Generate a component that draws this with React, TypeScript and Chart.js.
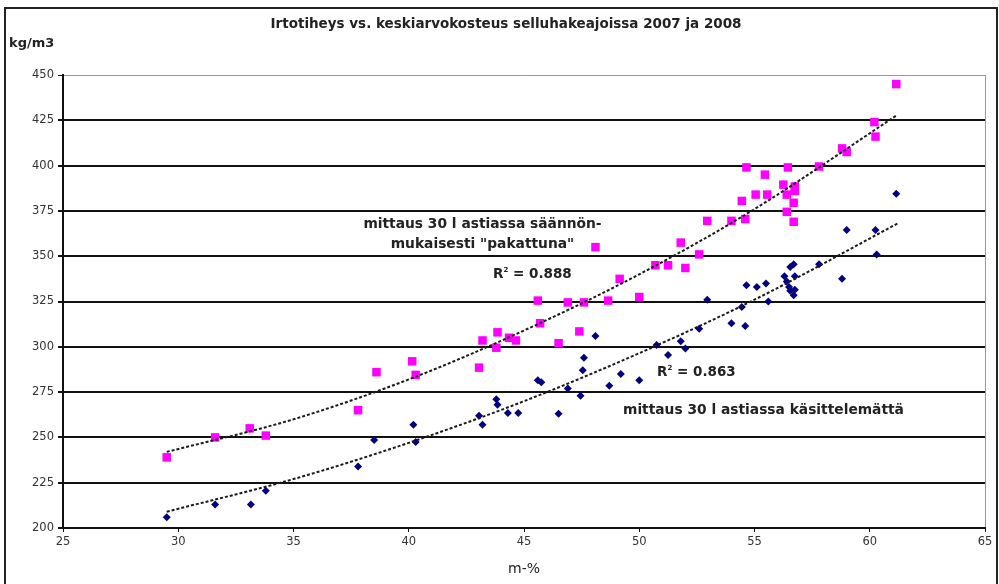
import React, { useEffect, useRef } from "react";
import { Chart, registerables } from "chart.js";
Chart.register(...registerables);

// Data
const pinkX = [29.5, 31.6, 33.1, 33.8, 37.8, 38.6, 40.15, 40.3, 43.05, 43.2, 43.85, 43.8, 44.35, 44.65, 45.6, 45.7, 46.5, 46.9, 47.4, 47.6, 48.1, 48.65, 49.15, 50.0, 50.7, 51.25, 51.8, 52.0, 52.6, 52.95, 54.0, 54.45, 54.6, 54.65, 55.05, 55.45, 55.55, 56.25, 56.4, 56.4, 56.45, 56.7, 56.7, 56.75, 56.75, 57.8, 58.8, 59.0, 60.2, 60.25, 61.15];
const pinkY = [239, 250, 255, 251, 265, 286, 292, 284.5, 288.5, 303.5, 308, 299.5, 305, 303.5, 325.5, 313, 302, 324.5, 308.5, 324.5, 355, 325.5, 337.5, 327.5, 345, 345, 357.5, 343.5, 351, 369.5, 369.5, 380.5, 370.5, 399, 384, 395, 384, 389.5, 384, 374.5, 399, 379.5, 369, 388.5, 386, 399.5, 409.5, 407.5, 424, 416, 445];

const blueX = [29.5, 31.6, 33.15, 33.8, 37.8, 38.5, 40.2, 40.3, 43.05, 43.2, 43.8, 43.85, 44.3, 44.75, 45.6, 45.75, 46.5, 46.9, 47.45, 47.55, 47.6, 48.1, 48.7, 49.2, 50.0, 50.75, 51.25, 51.8, 52.0, 52.6, 52.95, 54.0, 54.45, 54.6, 54.65, 55.1, 55.5, 55.6, 56.3, 56.4, 56.5, 56.55, 56.55, 56.7, 56.75, 56.75, 56.7, 57.8, 58.8, 59.0, 60.25, 60.3, 61.15];
const blueY = [206, 213, 213, 220.5, 234, 248.5, 257, 247.5, 262, 257, 271, 268, 263.5, 263.5, 281.5, 280.5, 263, 277, 273, 287, 294, 306, 278.5, 285, 281.5, 301, 295.5, 303, 299, 310, 326, 313, 322, 311.5, 334, 333, 335, 325, 339, 336, 333, 344, 331, 345.5, 339, 331.5, 328.5, 345.5, 337.5, 364.5, 364.5, 351, 384.5];

// Trend line values
const trendX = [29.5, 35, 40, 45, 50, 55, 61.2];
const pinkTrend = [242, 260, 282, 309, 340, 376, 428];
const blueTrend = [209, 227, 247, 270, 296.5, 326, 368];

const xMin = 25, xMax = 65, xStep = 5;
const yMin = 200, yMax = 450, yStep = 25;

const titleText = "Irtotiheys vs. keskiarvokosteus selluhakeajoissa 2007 ja 2008";
const yUnit = "kg/m3";
const xTitle = "m-%";
const packedLabel = ["mittaus 30 l astiassa säännön-", "mukaisesti \"pakattuna\""];
const looseLabel = "mittaus 30 l astiassa käsittelemättä";
const packedR2 = "0.888";
const looseR2 = "0.863";

const FONT = "'DejaVu Sans', Verdana, sans-serif";

const zip = (xs: number[], ys: number[]) => xs.map((x, i) => ({ x, y: ys[i] }));

export default function App() {
  const ref = useRef<HTMLCanvasElement | null>(null);

  useEffect(() => {
    document.body.style.margin = "0";
    const canvas = ref.current!;
    const chart = new Chart(canvas, {
      type: "scatter",
      data: {
        datasets: [
          {
            type: "line",
            data: zip(trendX, pinkTrend),
            borderColor: "#1a1a1a",
            borderWidth: 2,
            borderDash: [3, 2],
            pointRadius: 0,
            cubicInterpolationMode: "monotone",
            fill: false,
            order: 0,
          } as any,
          {
            type: "line",
            data: zip(trendX, blueTrend),
            borderColor: "#1a1a1a",
            borderWidth: 2,
            borderDash: [3, 2],
            pointRadius: 0,
            cubicInterpolationMode: "monotone",
            fill: false,
            order: 0,
          } as any,
          {
            data: zip(pinkX, pinkY),
            pointStyle: "rect",
            pointRadius: 6,
            backgroundColor: "#ff00ff",
            borderColor: "#ff00ff",
            borderWidth: 0,
            order: 1,
          },
          {
            data: zip(blueX, blueY),
            pointStyle: "rectRot",
            pointRadius: 4,
            backgroundColor: "#000080",
            borderColor: "#000080",
            borderWidth: 0,
            order: 1,
          },
        ],
      },
      options: {
        responsive: false,
        animation: false,
        devicePixelRatio: 1,
        layout: { padding: { left: 0, right: 14, top: 75, bottom: 0 } },
        plugins: { legend: { display: false }, tooltip: { enabled: false }, title: { display: false } },
        scales: {
          x: {
            type: "linear",
            min: xMin,
            max: xMax,
            afterFit: (s: any) => { s.height = 56; },
            ticks: { stepSize: xStep, padding: 3, color: "#333", font: { family: FONT, size: 11.5 } },
            grid: {
              drawOnChartArea: true,
              color: (c: any) => (c.tick && c.tick.value === xMax ? "#9a9a9a" : "rgba(0,0,0,0)"),
              tickColor: "#111",
              tickLength: 4,
              lineWidth: 1,
            },
            border: { display: true, color: "#111", width: 2 },
          },
          y: {
            type: "linear",
            min: yMin,
            max: yMax,
            afterFit: (s: any) => { s.width = 63; },
            ticks: { stepSize: yStep, padding: 4, color: "#333", font: { family: FONT, size: 11.5 } },
            grid: {
              color: (c: any) => (c.tick && c.tick.value === yMax ? "#9a9a9a" : "#111"),
              lineWidth: (c: any) => (c.tick && c.tick.value === yMax ? 1 : 2),
              tickColor: "#111",
              tickLength: 5,
            },
            border: { display: true, color: "#111", width: 2 },
          },
        },
      },
    });
    return () => chart.destroy();
  }, []);

  const txt: React.CSSProperties = {
    position: "absolute",
    fontFamily: FONT,
    color: "#222",
    whiteSpace: "nowrap",
    lineHeight: 1,
  };

  return (
    <div style={{ position: "relative", width: 999, height: 584, overflow: "hidden", background: "#fff" }}>
      <div style={{ position: "absolute", left: 4, top: 7, width: 990, height: 600, border: "2px solid #222" }} />
      <canvas ref={ref} width={999} height={584} style={{ position: "absolute", left: 0, top: 0 }} />
      <div style={{ ...txt, left: 0, width: 1012, top: 17, textAlign: "center", fontSize: 13.5, fontWeight: "bold" }}>{titleText}</div>
      <div style={{ ...txt, left: 9, top: 36, fontSize: 13, fontWeight: "bold" }}>{yUnit}</div>
      <div style={{ ...txt, left: 63, width: 922, top: 561, textAlign: "center", fontSize: 14 }}>{xTitle}</div>
      <div style={{ ...txt, left: 330, width: 305, top: 213, textAlign: "center", fontSize: 13.8, fontWeight: "bold", lineHeight: "20px" }}>
        {packedLabel[0]}<br />{packedLabel[1]}
      </div>
      <div style={{ ...txt, left: 493, top: 267, fontSize: 13.5, fontWeight: "bold" }}>
        R<sup style={{ fontSize: 7, verticalAlign: "top" }}>2</sup> = {packedR2}
      </div>
      <div style={{ ...txt, left: 657, top: 365, fontSize: 13.5, fontWeight: "bold" }}>
        R<sup style={{ fontSize: 7, verticalAlign: "top" }}>2</sup> = {looseR2}
      </div>
      <div style={{ ...txt, left: 623, top: 403, fontSize: 13.8, fontWeight: "bold" }}>{looseLabel}</div>
    </div>
  );
}
